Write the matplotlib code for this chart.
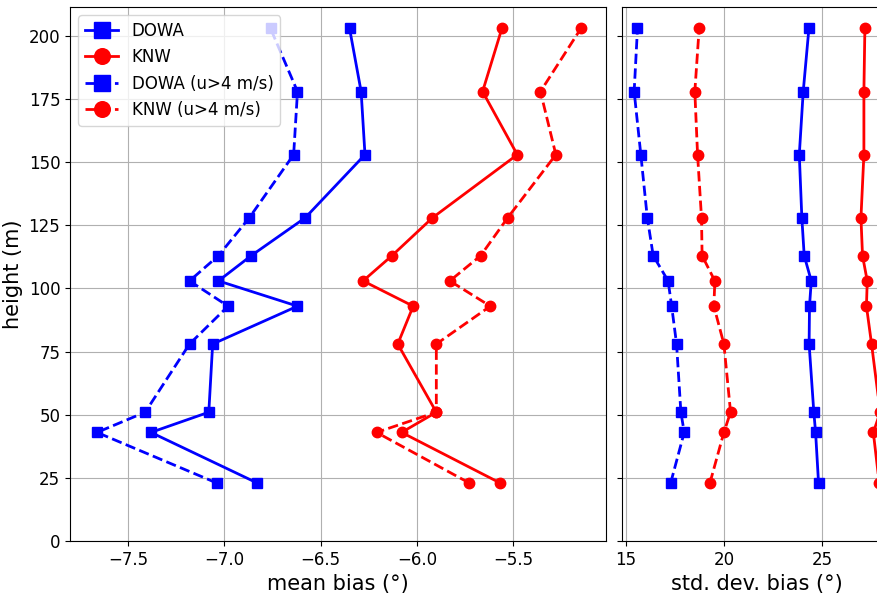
import matplotlib
matplotlib.use("Agg")
import matplotlib.pyplot as plt

# -----------------------------
# DATA
# -----------------------------

height = [23, 43, 51, 78, 93, 103, 113, 128, 153, 178, 203]

# mean bias (deg)
dowa_mean = [-6.83, -7.38, -7.08, -7.06, -6.62, -7.03, -6.86, -6.58, -6.27, -6.29, -6.35]
knw_mean = [-5.57, -6.08, -5.90, -6.10, -6.02, -6.28, -6.13, -5.92, -5.48, -5.66, -5.56]
dowa_mean_u4 = [-7.04, -7.66, -7.41, -7.18, -6.98, -7.18, -7.03, -6.87, -6.64, -6.62, -6.76]
knw_mean_u4 = [-5.73, -6.21, -5.90, -5.90, -5.62, -5.83, -5.67, -5.53, -5.28, -5.36, -5.15]

# std. dev. of bias (deg)
dowa_std = [24.81, 24.66, 24.57, 24.33, 24.35, 24.44, 24.08, 23.96, 23.83, 24.03, 24.32]
knw_std = [27.9, 27.6, 27.95, 27.51, 27.25, 27.29, 27.05, 26.97, 27.12, 27.12, 27.17]
dowa_std_u4 = [17.28, 17.97, 17.80, 17.58, 17.33, 17.15, 16.39, 16.09, 15.76, 15.42, 15.59]
knw_std_u4 = [19.28, 19.99, 20.33, 19.99, 19.48, 19.53, 18.88, 18.85, 18.65, 18.51, 18.73]

# -----------------------------
# PLOT
# -----------------------------

plt.rcParams["font.size"] = 12

fig = plt.figure(figsize=(8.78, 5.95), dpi=100)
ax1 = fig.add_axes([0.0797, 0.0908, 0.6105, 0.8975])
ax2 = fig.add_axes([0.7084, 0.0908, 0.3064, 0.8975], sharey=ax1)

style = dict(lw=2, ms=7.5)

ax1.plot(dowa_mean, height, "bs-", label="DOWA", **style)
ax1.plot(knw_mean, height, "ro-", label="KNW", **style)
ax1.plot(dowa_mean_u4, height, "bs--", label="DOWA (u>4 m/s)", **style)
ax1.plot(knw_mean_u4, height, "ro--", label="KNW (u>4 m/s)", **style)

ax2.plot(dowa_std, height, "bs-", **style)
ax2.plot(knw_std, height, "ro-", **style)
ax2.plot(dowa_std_u4, height, "bs--", **style)
ax2.plot(knw_std_u4, height, "ro--", **style)

ax1.set_xlim(-7.80, -5.02)
ax1.set_ylim(0, 211.5)
ax1.set_yticks([0, 25, 50, 75, 100, 125, 150, 175, 200])
ax1.set_xlabel("mean bias (°)", fontsize=15)
ax1.set_ylabel("height (m)", fontsize=15)
ax1.grid(True)
ax1.legend(loc="upper left", markerscale=1.5, fontsize=12)

ax2.set_xlim(14.8, 28.5)
ax2.set_xticks([15, 20, 25])
ax2.set_xlabel("std. dev. bias (°)", fontsize=15)
ax2.tick_params(labelleft=False)
ax2.grid(True)

fig.savefig("out.png", dpi=100)
